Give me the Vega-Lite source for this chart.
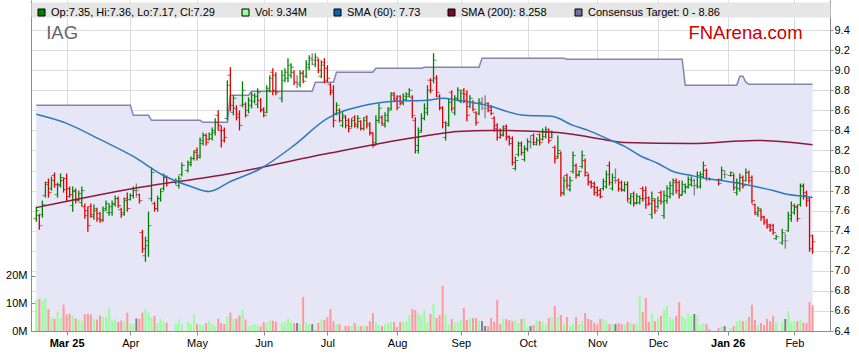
{
"$schema":"https://vega.github.io/schema/vega-lite/v6.json",
"width":799,"height":331,"autosize":"none",
"padding":{"left":31,"top":0,"right":29,"bottom":32},
"background":"white",
"config":{"font":"Liberation Sans","view":{"stroke":null},
"axis":{"gridColor":"#dcdcdc","domainColor":"#8c8c8c","tickColor":"#8c8c8c","labelColor":"#000000","labelFontSize":11,"labelFont":"Liberation Sans"}},
"datasets":{
"bars":[
{"i":0,"o":7.52,"h":7.64,"l":7.49,"c":7.60,"v":11.3},{"i":1,"o":7.55,"h":7.57,"l":7.41,"c":7.45,"v":11.6},{"i":2,"o":7.56,"h":7.70,"l":7.53,"c":7.66,"v":11.1},{"i":3,"o":7.75,"h":7.89,"l":7.73,"c":7.86,"v":12.0},{"i":4,"o":7.88,"h":7.92,"l":7.73,"c":7.78,"v":8.0},{"i":5,"o":7.82,"h":7.94,"l":7.80,"c":7.90,"v":5.0},{"i":6,"o":7.95,"h":7.98,"l":7.83,"c":7.86,"v":4.4},{"i":7,"o":7.76,"h":7.88,"l":7.73,"c":7.85,"v":6.9},{"i":8,"o":7.86,"h":7.97,"l":7.83,"c":7.93,"v":4.7},{"i":9,"o":7.90,"h":7.93,"l":7.78,"c":7.81,"v":9.6},
{"i":10,"o":7.92,"h":7.97,"l":7.69,"c":7.74,"v":6.0},{"i":11,"o":7.82,"h":7.84,"l":7.73,"c":7.76,"v":6.3},{"i":12,"o":7.65,"h":7.84,"l":7.59,"c":7.80,"v":5.6},{"i":13,"o":7.79,"h":7.82,"l":7.67,"c":7.70,"v":4.5},{"i":14,"o":7.71,"h":7.80,"l":7.69,"c":7.77,"v":4.2},{"i":15,"o":7.68,"h":7.84,"l":7.64,"c":7.80,"v":3.8},{"i":16,"o":7.64,"h":7.67,"l":7.52,"c":7.55,"v":6.0},{"i":17,"o":7.60,"h":7.64,"l":7.39,"c":7.45,"v":6.3},{"i":18,"o":7.64,"h":7.67,"l":7.53,"c":7.56,"v":6.0},{"i":19,"o":7.54,"h":7.66,"l":7.51,"c":7.62,"v":4.5},
{"i":20,"o":7.60,"h":7.63,"l":7.49,"c":7.52,"v":4.2},{"i":21,"o":7.57,"h":7.59,"l":7.48,"c":7.50,"v":5.6},{"i":22,"o":7.51,"h":7.64,"l":7.49,"c":7.60,"v":5.2},{"i":23,"o":7.62,"h":7.70,"l":7.60,"c":7.67,"v":5.2},{"i":24,"o":7.58,"h":7.67,"l":7.55,"c":7.64,"v":8.5},{"i":25,"o":7.58,"h":7.70,"l":7.55,"c":7.67,"v":3.8},{"i":26,"o":7.66,"h":7.75,"l":7.64,"c":7.72,"v":4.2},{"i":27,"o":7.72,"h":7.74,"l":7.63,"c":7.65,"v":3.4},{"i":28,"o":7.61,"h":7.63,"l":7.53,"c":7.56,"v":3.8},{"i":29,"o":7.58,"h":7.73,"l":7.55,"c":7.70,"v":3.4},
{"i":30,"o":7.72,"h":7.78,"l":7.59,"c":7.62,"v":6.7},{"i":31,"o":7.71,"h":7.77,"l":7.70,"c":7.75,"v":2.9},{"i":32,"o":7.75,"h":7.84,"l":7.72,"c":7.80,"v":2.5},{"i":33,"o":7.80,"h":7.87,"l":7.73,"c":7.80,"v":4.5},{"i":34,"o":7.76,"h":7.77,"l":7.67,"c":7.70,"v":4.5},{"i":35,"o":7.38,"h":7.41,"l":7.18,"c":7.22,"v":6.7},{"i":36,"o":7.15,"h":7.34,"l":7.09,"c":7.30,"v":8.1},{"i":37,"o":7.25,"h":7.59,"l":7.14,"c":7.45,"v":6.7},{"i":38,"o":7.72,"h":8.03,"l":7.69,"c":7.98,"v":4.8},{"i":39,"o":7.67,"h":7.69,"l":7.59,"c":7.62,"v":5.6},
{"i":40,"o":7.62,"h":7.75,"l":7.59,"c":7.72,"v":2.9},{"i":41,"o":7.72,"h":7.82,"l":7.69,"c":7.79,"v":4.5},{"i":42,"o":7.82,"h":7.97,"l":7.80,"c":7.93,"v":3.4},{"i":43,"o":7.93,"h":7.95,"l":7.84,"c":7.88,"v":2.9},{"i":46,"o":7.88,"h":7.92,"l":7.86,"c":7.90,"v":2.5},{"i":47,"o":7.85,"h":7.95,"l":7.82,"c":7.92,"v":4.2},{"i":48,"o":7.96,"h":8.08,"l":7.94,"c":8.05,"v":2.5},
{"i":50,"o":8.00,"h":8.10,"l":7.98,"c":8.08,"v":3.2},{"i":51,"o":8.06,"h":8.14,"l":8.04,"c":8.12,"v":2.5},{"i":52,"o":8.12,"h":8.20,"l":8.10,"c":8.18,"v":6.3},{"i":53,"o":8.20,"h":8.23,"l":8.10,"c":8.13,"v":2.5},{"i":54,"o":8.15,"h":8.33,"l":8.12,"c":8.30,"v":2.2},{"i":55,"o":8.27,"h":8.38,"l":8.25,"c":8.35,"v":2.2},{"i":56,"o":8.35,"h":8.37,"l":8.25,"c":8.28,"v":2.9},{"i":57,"o":8.31,"h":8.38,"l":8.30,"c":8.36,"v":3.8},{"i":58,"o":8.32,"h":8.43,"l":8.30,"c":8.40,"v":2.5},{"i":59,"o":8.38,"h":8.52,"l":8.35,"c":8.48,"v":1.7},
{"i":60,"o":8.55,"h":8.60,"l":8.40,"c":8.45,"v":4.5},{"i":61,"o":8.40,"h":8.45,"l":8.23,"c":8.30,"v":2.9},{"i":62,"o":8.40,"h":8.43,"l":8.28,"c":8.33,"v":2.5},{"i":63,"o":8.52,"h":8.90,"l":8.50,"c":8.85,"v":5.2},{"i":64,"o":8.95,"h":9.03,"l":8.59,"c":8.65,"v":6.7},{"i":65,"o":8.58,"h":8.75,"l":8.55,"c":8.72,"v":4.5},{"i":66,"o":8.62,"h":8.65,"l":8.50,"c":8.53,"v":4.5},{"i":67,"o":8.56,"h":8.60,"l":8.40,"c":8.45,"v":5.6},{"i":68,"o":8.65,"h":8.89,"l":8.63,"c":8.80,"v":7.7},{"i":69,"o":8.66,"h":8.68,"l":8.53,"c":8.55,"v":4.2},
{"i":70,"o":8.60,"h":8.73,"l":8.57,"c":8.70,"v":1.7},{"i":71,"o":8.65,"h":8.78,"l":8.62,"c":8.75,"v":2.2},{"i":72,"o":8.69,"h":8.77,"l":8.67,"c":8.74,"v":2.5},{"i":73,"o":8.66,"h":8.82,"l":8.62,"c":8.78,"v":2.2},{"i":74,"o":8.70,"h":8.72,"l":8.58,"c":8.60,"v":1.6},{"i":75,"o":8.61,"h":8.63,"l":8.53,"c":8.55,"v":3.2},{"i":76,"o":8.58,"h":8.85,"l":8.57,"c":8.80,"v":2.9},{"i":77,"o":8.82,"h":8.95,"l":8.78,"c":8.92,"v":3.8},{"i":78,"o":8.98,"h":9.02,"l":8.75,"c":8.80,"v":3.8},{"i":79,"o":8.95,"h":8.98,"l":8.75,"c":8.78,"v":3.4},
{"i":81,"o":8.72,"h":9.00,"l":8.68,"c":8.95,"v":2.9},{"i":82,"o":8.90,"h":9.02,"l":8.88,"c":8.98,"v":3.4},{"i":83,"o":8.92,"h":9.12,"l":8.88,"c":9.05,"v":4.5},{"i":84,"o":8.95,"h":9.07,"l":8.92,"c":9.03,"v":3.2},{"i":85,"o":8.98,"h":9.00,"l":8.85,"c":8.88,"v":2.9},{"i":86,"o":8.88,"h":8.95,"l":8.82,"c":8.88,"v":2.9},{"i":87,"o":8.86,"h":9.00,"l":8.83,"c":8.97,"v":2.5},{"i":88,"o":8.97,"h":9.00,"l":8.87,"c":8.89,"v":12.4},{"i":89,"o":8.94,"h":9.10,"l":8.92,"c":9.06,"v":3.3},
{"i":90,"o":9.03,"h":9.15,"l":9.00,"c":9.12,"v":2.5},{"i":91,"o":9.10,"h":9.17,"l":9.05,"c":9.10,"v":2.5},{"i":92,"o":9.06,"h":9.17,"l":9.03,"c":9.13,"v":0.7},{"i":93,"o":9.10,"h":9.12,"l":8.97,"c":9.00,"v":3.0},{"i":94,"o":8.94,"h":9.10,"l":8.92,"c":9.05,"v":4.0},{"i":95,"o":9.08,"h":9.12,"l":8.87,"c":8.90,"v":4.0},{"i":96,"o":9.02,"h":9.05,"l":8.88,"c":8.92,"v":5.1},{"i":97,"o":8.86,"h":8.87,"l":8.75,"c":8.78,"v":8.0},{"i":98,"o":8.80,"h":8.85,"l":8.43,"c":8.50,"v":3.6},{"i":99,"o":8.57,"h":8.68,"l":8.55,"c":8.65,"v":2.5},
{"i":100,"o":8.60,"h":8.62,"l":8.48,"c":8.50,"v":2.5},{"i":101,"o":8.45,"h":8.58,"l":8.43,"c":8.55,"v":0.4},{"i":102,"o":8.53,"h":8.55,"l":8.42,"c":8.45,"v":1.8},{"i":103,"o":8.50,"h":8.52,"l":8.38,"c":8.42,"v":1.8},{"i":104,"o":8.44,"h":8.52,"l":8.43,"c":8.50,"v":1.8},{"i":105,"o":8.53,"h":8.55,"l":8.43,"c":8.46,"v":2.9},{"i":106,"o":8.44,"h":8.55,"l":8.42,"c":8.52,"v":1.8},{"i":107,"o":8.49,"h":8.50,"l":8.40,"c":8.42,"v":1.8},{"i":108,"o":8.42,"h":8.53,"l":8.40,"c":8.50,"v":2.2},{"i":109,"o":8.53,"h":8.55,"l":8.42,"c":8.45,"v":1.8},
{"i":110,"o":8.47,"h":8.48,"l":8.35,"c":8.38,"v":3.6},{"i":111,"o":8.37,"h":8.38,"l":8.23,"c":8.25,"v":6.5},{"i":112,"o":8.28,"h":8.55,"l":8.25,"c":8.50,"v":3.3},{"i":113,"o":8.50,"h":8.67,"l":8.47,"c":8.62,"v":2.2},{"i":114,"o":8.53,"h":8.55,"l":8.45,"c":8.47,"v":1.8},{"i":115,"o":8.45,"h":8.58,"l":8.43,"c":8.55,"v":2.5},{"i":116,"o":8.50,"h":8.63,"l":8.48,"c":8.60,"v":2.9},{"i":117,"o":8.62,"h":8.78,"l":8.60,"c":8.75,"v":3.3},{"i":118,"o":8.77,"h":8.78,"l":8.68,"c":8.70,"v":3.3},{"i":119,"o":8.72,"h":8.75,"l":8.60,"c":8.63,"v":1.5},
{"i":120,"o":8.74,"h":8.75,"l":8.65,"c":8.68,"v":3.3},{"i":121,"o":8.67,"h":8.77,"l":8.65,"c":8.74,"v":3.3},{"i":122,"o":8.71,"h":8.78,"l":8.70,"c":8.76,"v":3.6},{"i":123,"o":8.74,"h":8.82,"l":8.73,"c":8.80,"v":5.8},{"i":124,"o":8.73,"h":8.75,"l":8.52,"c":8.55,"v":8.0},{"i":125,"o":8.50,"h":8.53,"l":8.17,"c":8.25,"v":7.6},{"i":126,"o":8.20,"h":8.43,"l":8.17,"c":8.38,"v":6.5},{"i":127,"o":8.40,"h":8.57,"l":8.38,"c":8.52,"v":5.5},{"i":128,"o":8.52,"h":8.67,"l":8.50,"c":8.62,"v":7.6},{"i":129,"o":8.58,"h":8.85,"l":8.55,"c":8.80,"v":3.3},
{"i":130,"o":8.90,"h":8.92,"l":8.77,"c":8.80,"v":6.2},{"i":131,"o":8.90,"h":9.17,"l":8.87,"c":9.10,"v":9.8},{"i":132,"o":8.92,"h":8.95,"l":8.73,"c":8.78,"v":4.7},{"i":133,"o":8.74,"h":8.76,"l":8.60,"c":8.63,"v":5.8},{"i":134,"o":8.62,"h":8.64,"l":8.42,"c":8.48,"v":16.4},{"i":135,"o":8.33,"h":8.49,"l":8.30,"c":8.45,"v":6.2},{"i":136,"o":8.47,"h":8.72,"l":8.44,"c":8.68,"v":2.5},{"i":137,"o":8.78,"h":8.80,"l":8.59,"c":8.62,"v":4.4},{"i":138,"o":8.58,"h":8.75,"l":8.55,"c":8.72,"v":2.9},{"i":139,"o":8.72,"h":8.83,"l":8.70,"c":8.80,"v":3.3},
{"i":140,"o":8.69,"h":8.80,"l":8.67,"c":8.77,"v":4.0},{"i":141,"o":8.80,"h":8.82,"l":8.67,"c":8.70,"v":8.4},{"i":142,"o":8.76,"h":8.80,"l":8.49,"c":8.55,"v":4.0},{"i":143,"o":8.64,"h":8.75,"l":8.62,"c":8.72,"v":4.7},{"i":144,"o":8.68,"h":8.70,"l":8.59,"c":8.61,"v":4.7},{"i":145,"o":8.58,"h":8.59,"l":8.45,"c":8.48,"v":4.7},{"i":146,"o":8.57,"h":8.72,"l":8.55,"c":8.68,"v":3.6},{"i":147,"o":8.66,"h":8.73,"l":8.60,"c":8.66,"v":3.6},{"i":148,"o":8.62,"h":8.75,"l":8.52,"c":8.62,"v":1.8},{"i":149,"o":8.67,"h":8.68,"l":8.58,"c":8.60,"v":1.8},
{"i":150,"o":8.63,"h":8.65,"l":8.55,"c":8.57,"v":4.7},{"i":151,"o":8.52,"h":8.54,"l":8.39,"c":8.42,"v":3.3},{"i":152,"o":8.45,"h":8.47,"l":8.30,"c":8.33,"v":11.3},{"i":153,"o":8.40,"h":8.42,"l":8.32,"c":8.35,"v":2.5},{"i":154,"o":8.36,"h":8.45,"l":8.34,"c":8.42,"v":4.4},{"i":155,"o":8.44,"h":8.46,"l":8.30,"c":8.33,"v":4.4},{"i":156,"o":8.34,"h":8.35,"l":8.25,"c":8.27,"v":4.0},{"i":157,"o":8.32,"h":8.34,"l":8.05,"c":8.08,"v":3.6},{"i":158,"o":8.02,"h":8.14,"l":8.00,"c":8.10,"v":4.0},{"i":159,"o":8.16,"h":8.29,"l":8.14,"c":8.25,"v":2.9},
{"i":160,"o":8.27,"h":8.29,"l":8.15,"c":8.18,"v":4.4},{"i":161,"o":8.11,"h":8.25,"l":8.09,"c":8.22,"v":4.7},{"i":162,"o":8.21,"h":8.32,"l":8.19,"c":8.29,"v":1.5},{"i":163,"o":8.28,"h":8.35,"l":8.22,"c":8.28,"v":1.8},{"i":164,"o":8.35,"h":8.37,"l":8.25,"c":8.28,"v":2.2},{"i":165,"o":8.26,"h":8.33,"l":8.25,"c":8.30,"v":4.0},{"i":166,"o":8.36,"h":8.37,"l":8.25,"c":8.28,"v":3.6},{"i":167,"o":8.31,"h":8.42,"l":8.30,"c":8.39,"v":3.3},{"i":168,"o":8.34,"h":8.44,"l":8.32,"c":8.41,"v":2.5},{"i":169,"o":8.39,"h":8.42,"l":8.27,"c":8.30,"v":4.7},
{"i":170,"o":8.33,"h":8.40,"l":8.32,"c":8.38,"v":5.1},{"i":171,"o":8.23,"h":8.25,"l":8.07,"c":8.12,"v":9.1},{"i":172,"o":8.14,"h":8.35,"l":8.12,"c":8.20,"v":5.1},{"i":173,"o":8.17,"h":8.19,"l":7.74,"c":7.78,"v":5.8},{"i":174,"o":7.77,"h":7.94,"l":7.75,"c":7.90,"v":2.5},{"i":175,"o":7.95,"h":7.97,"l":7.82,"c":7.85,"v":5.1},{"i":176,"o":7.81,"h":7.94,"l":7.79,"c":7.90,"v":1.8},{"i":177,"o":7.99,"h":8.19,"l":7.97,"c":8.15,"v":2.5},{"i":178,"o":8.05,"h":8.07,"l":7.92,"c":7.95,"v":5.1},{"i":179,"o":7.96,"h":8.00,"l":7.94,"c":7.99,"v":2.5},
{"i":180,"o":8.04,"h":8.20,"l":8.02,"c":8.15,"v":3.6},{"i":181,"o":8.10,"h":8.12,"l":7.94,"c":7.98,"v":6.5},{"i":182,"o":7.95,"h":7.97,"l":7.85,"c":7.88,"v":4.4},{"i":183,"o":7.89,"h":7.90,"l":7.82,"c":7.84,"v":4.0},{"i":184,"o":7.87,"h":7.89,"l":7.75,"c":7.78,"v":3.0},{"i":185,"o":7.83,"h":7.84,"l":7.74,"c":7.76,"v":2.5},{"i":186,"o":7.80,"h":7.82,"l":7.72,"c":7.74,"v":4.4},{"i":187,"o":7.82,"h":7.92,"l":7.80,"c":7.89,"v":4.4},{"i":188,"o":7.84,"h":8.00,"l":7.82,"c":7.96,"v":3.6},{"i":189,"o":8.05,"h":8.09,"l":7.85,"c":7.88,"v":2.5},
{"i":190,"o":7.82,"h":7.97,"l":7.80,"c":7.93,"v":2.5},{"i":191,"o":7.90,"h":8.02,"l":7.87,"c":7.90,"v":2.5},{"i":192,"o":7.90,"h":7.92,"l":7.79,"c":7.82,"v":2.9},{"i":193,"o":7.88,"h":7.90,"l":7.79,"c":7.81,"v":2.5},{"i":194,"o":7.80,"h":7.89,"l":7.79,"c":7.86,"v":2.2},{"i":195,"o":7.86,"h":7.89,"l":7.69,"c":7.72,"v":3.3},{"i":196,"o":7.68,"h":7.77,"l":7.66,"c":7.74,"v":2.9},{"i":197,"o":7.77,"h":7.79,"l":7.64,"c":7.67,"v":2.5},{"i":198,"o":7.68,"h":7.77,"l":7.66,"c":7.74,"v":2.9},{"i":199,"o":7.68,"h":7.75,"l":7.66,"c":7.72,"v":12.7},
{"i":200,"o":7.82,"h":7.84,"l":7.69,"c":7.72,"v":6.9},{"i":201,"o":7.80,"h":7.84,"l":7.62,"c":7.66,"v":12.0},{"i":202,"o":7.73,"h":7.74,"l":7.65,"c":7.67,"v":3.3},{"i":203,"o":7.56,"h":7.79,"l":7.52,"c":7.72,"v":6.2},{"i":204,"o":7.70,"h":7.72,"l":7.57,"c":7.60,"v":3.6},{"i":205,"o":7.64,"h":7.74,"l":7.62,"c":7.70,"v":4.7},{"i":206,"o":7.78,"h":7.80,"l":7.66,"c":7.69,"v":5.5},{"i":207,"o":7.55,"h":7.80,"l":7.52,"c":7.75,"v":7.6},{"i":208,"o":7.70,"h":7.85,"l":7.67,"c":7.82,"v":9.1},{"i":209,"o":7.74,"h":7.89,"l":7.72,"c":7.85,"v":5.1},
{"i":210,"o":7.77,"h":7.92,"l":7.75,"c":7.88,"v":4.4},{"i":211,"o":7.90,"h":7.92,"l":7.77,"c":7.80,"v":5.5},{"i":212,"o":7.88,"h":7.90,"l":7.72,"c":7.75,"v":10.5},{"i":213,"o":7.76,"h":7.90,"l":7.75,"c":7.86,"v":5.5},{"i":214,"o":7.79,"h":7.87,"l":7.77,"c":7.84,"v":4.7},{"i":215,"o":7.83,"h":7.94,"l":7.82,"c":7.91,"v":6.5},{"i":216,"o":7.86,"h":7.94,"l":7.84,"c":7.90,"v":5.5},{"i":217,"o":7.85,"h":7.92,"l":7.75,"c":7.85,"v":6.2},{"i":218,"o":7.85,"h":7.99,"l":7.82,"c":7.95,"v":5.8},{"i":219,"o":7.84,"h":7.99,"l":7.82,"c":7.96,"v":2.2},
{"i":220,"o":7.94,"h":8.09,"l":7.92,"c":8.05,"v":2.9},{"i":221,"o":8.00,"h":8.02,"l":7.90,"c":7.92,"v":2.5},{"i":222,"o":7.92,"h":7.93,"l":7.90,"c":7.91,"v":0.7},{"i":225,"o":7.91,"h":7.92,"l":7.85,"c":7.87,"v":1.1},{"i":226,"o":7.91,"h":8.04,"l":7.90,"c":8.00,"v":1.5},{"i":227,"o":7.96,"h":8.00,"l":7.92,"c":7.96,"v":1.8},{"i":229,"o":7.95,"h":7.99,"l":7.94,"c":7.98,"v":1.1},
{"i":230,"o":7.95,"h":7.97,"l":7.80,"c":7.83,"v":1.8},{"i":231,"o":7.78,"h":7.92,"l":7.75,"c":7.88,"v":3.6},{"i":232,"o":7.82,"h":7.97,"l":7.79,"c":7.93,"v":4.0},{"i":233,"o":7.93,"h":7.95,"l":7.82,"c":7.85,"v":3.6},{"i":234,"o":7.90,"h":8.02,"l":7.89,"c":7.98,"v":3.6},{"i":235,"o":7.98,"h":8.00,"l":7.87,"c":7.90,"v":5.1},{"i":236,"o":7.93,"h":7.95,"l":7.67,"c":7.70,"v":9.5},{"i":237,"o":7.66,"h":7.67,"l":7.56,"c":7.58,"v":4.0},{"i":238,"o":7.56,"h":7.64,"l":7.54,"c":7.62,"v":2.2},{"i":239,"o":7.60,"h":7.62,"l":7.50,"c":7.53,"v":2.9},
{"i":240,"o":7.54,"h":7.55,"l":7.46,"c":7.48,"v":2.2},{"i":241,"o":7.50,"h":7.52,"l":7.42,"c":7.44,"v":4.4},{"i":242,"o":7.46,"h":7.47,"l":7.39,"c":7.41,"v":3.6},{"i":243,"o":7.45,"h":7.47,"l":7.36,"c":7.38,"v":5.5},{"i":244,"o":7.32,"h":7.36,"l":7.31,"c":7.34,"v":3.3},{"i":246,"o":7.28,"h":7.42,"l":7.26,"c":7.38,"v":3.3},{"i":247,"o":7.30,"h":7.37,"l":7.22,"c":7.30,"v":4.4},{"i":248,"o":7.40,"h":7.59,"l":7.39,"c":7.55,"v":7.3},{"i":249,"o":7.52,"h":7.69,"l":7.49,"c":7.65,"v":3.3},
{"i":250,"o":7.58,"h":7.67,"l":7.56,"c":7.63,"v":3.6},{"i":251,"o":7.64,"h":7.66,"l":7.49,"c":7.52,"v":3.6},{"i":252,"o":7.66,"h":7.87,"l":7.64,"c":7.84,"v":4.0},{"i":253,"o":7.85,"h":7.87,"l":7.71,"c":7.75,"v":2.9},{"i":254,"o":7.78,"h":7.80,"l":7.64,"c":7.70,"v":2.9},{"i":255,"o":7.72,"h":7.73,"l":7.19,"c":7.22,"v":10.5},{"i":256,"o":7.35,"h":7.36,"l":7.17,"c":7.29,"v":9.34}
],
"target":[
{"i":0,"t":8.65},{"i":31,"t":8.65},{"i":32,"t":8.55},{"i":37,"t":8.55},{"i":38,"t":8.50},{"i":54,"t":8.50},{"i":55,"t":8.48},{"i":63,"t":8.48},{"i":64,"t":8.75},{"i":70,"t":8.75},{"i":71,"t":8.79},{"i":91,"t":8.79},{"i":92,"t":8.88},{"i":98,"t":8.88},{"i":99,"t":8.98},{"i":111,"t":8.98},{"i":112,"t":9.02},{"i":127,"t":9.02},{"i":128,"t":9.03},{"i":146,"t":9.03},{"i":147,"t":9.12},{"i":174,"t":9.12},{"i":175,"t":9.11},{"i":213,"t":9.11},{"i":214,"t":8.85},{"i":231,"t":8.85},{"i":232,"t":8.94},{"i":233,"t":8.94},{"i":234,"t":8.88},{"i":235,"t":8.86},{"i":256,"t":8.86}
],
"sma60":[
{"i":0,"s":8.56},{"i":10,"s":8.47},{"i":21,"s":8.31},{"i":32,"s":8.14},{"i":42,"s":7.95},{"i":51,"s":7.84},{"i":57,"s":7.79},{"i":64,"s":7.89},{"i":74,"s":8.02},{"i":85,"s":8.25},{"i":96,"s":8.52},{"i":102,"s":8.60},{"i":107,"s":8.64},{"i":112,"s":8.67},{"i":118,"s":8.69},{"i":129,"s":8.70},{"i":134,"s":8.72},{"i":139,"s":8.70},{"i":150,"s":8.64},{"i":155,"s":8.59},{"i":161,"s":8.55},{"i":170,"s":8.54},{"i":177,"s":8.45},{"i":182,"s":8.40},{"i":188,"s":8.32},{"i":194,"s":8.24},{"i":199,"s":8.15},{"i":205,"s":8.07},{"i":210,"s":7.99},{"i":216,"s":7.95},{"i":221,"s":7.92},{"i":226,"s":7.90},{"i":232,"s":7.87},{"i":237,"s":7.84},{"i":243,"s":7.80},{"i":248,"s":7.76},{"i":254,"s":7.74},{"i":256,"s":7.73}
],
"sma200":[
{"i":0,"s":7.63},{"i":32,"s":7.82},{"i":64,"s":7.97},{"i":96,"s":8.17},{"i":129,"s":8.35},{"i":139,"s":8.39},{"i":150,"s":8.40},{"i":172,"s":8.38},{"i":185,"s":8.32},{"i":194,"s":8.28},{"i":216,"s":8.27},{"i":237,"s":8.30},{"i":256,"s":8.258}
]
},
"layer":[
{"layer":[
 {"data":{"name":"target"},"mark":{"type":"area","color":"#e6e6f6"},
  "encoding":{
   "x":{"field":"i","type":"quantitative","scale":{"domain":[-0.1,260.1],"nice":false,"zero":false},
    "axis":{"orient":"bottom","title":null,"values":[10,31,53,75,96,119,140,162,185,205,228,250],
     "labelExpr":"datum.value==10?'Mar 25':datum.value==31?'Apr':datum.value==53?'May':datum.value==75?'Jun':datum.value==96?'Jul':datum.value==119?'Aug':datum.value==140?'Sep':datum.value==162?'Oct':datum.value==185?'Nov':datum.value==205?'Dec':datum.value==228?'Jan 26':'Feb'",
     "labelFontWeight":{"condition":{"test":"datum.value==10||datum.value==228","value":"bold"},"value":"normal"},
     "grid":true,"tickSize":4,"labelPadding":2,"labelFlush":false,"labelOverlap":false}},
   "y":{"field":"t","type":"quantitative","scale":{"domain":[6.4,9.7],"nice":false,"zero":false},
    "axis":{"orient":"right","title":null,"values":[6.4,6.6,6.8,7.0,7.2,7.4,7.6,7.8,8.0,8.2,8.4,8.6,8.8,9.0,9.2,9.4],"format":".1f","grid":true,"tickSize":3,"labelPadding":1,"labelOverlap":false,"labelFlush":false}},
   "y2":{"datum":6.4}}},
 {"data":{"name":"target"},"mark":{"type":"line","color":"#8484b0","strokeWidth":1.5},
  "encoding":{"x":{"field":"i","type":"quantitative","scale":{"domain":[-0.1,260.1],"nice":false,"zero":false}},
   "y":{"field":"t","type":"quantitative","scale":{"domain":[6.4,9.7],"nice":false,"zero":false},
    "axis":{"orient":"right","title":null,"values":[6.4,6.6,6.8,7.0,7.2,7.4,7.6,7.8,8.0,8.2,8.4,8.6,8.8,9.0,9.2,9.4],"format":".1f","grid":true,"tickSize":3,"labelPadding":1,"labelOverlap":false,"labelFlush":false}}}},
 {"data":{"name":"bars"},"mark":{"type":"rule","strokeWidth":1.3},
  "encoding":{"x":{"field":"i","type":"quantitative","scale":{"domain":[-0.1,260.1],"nice":false,"zero":false}},
   "y":{"field":"l","type":"quantitative","scale":{"domain":[6.4,9.7],"nice":false,"zero":false},
    "axis":{"orient":"right","title":null,"values":[6.4,6.6,6.8,7.0,7.2,7.4,7.6,7.8,8.0,8.2,8.4,8.6,8.8,9.0,9.2,9.4],"format":".1f","grid":true,"tickSize":3,"labelPadding":1,"labelOverlap":false,"labelFlush":false}},
   "y2":{"field":"h"},
   "color":{"condition":[{"test":"datum.c>datum.o","value":"#008000"},{"test":"datum.c<datum.o","value":"#dd0000"}],"value":"#808080"}}},
 {"data":{"name":"bars"},"mark":{"type":"tick","orient":"horizontal","size":3,"thickness":1,"xOffset":-1.5},
  "encoding":{"x":{"field":"i","type":"quantitative","scale":{"domain":[-0.1,260.1],"nice":false,"zero":false}},
   "y":{"field":"o","type":"quantitative","scale":{"domain":[6.4,9.7],"nice":false,"zero":false},
    "axis":{"orient":"right","title":null,"values":[6.4,6.6,6.8,7.0,7.2,7.4,7.6,7.8,8.0,8.2,8.4,8.6,8.8,9.0,9.2,9.4],"format":".1f","grid":true,"tickSize":3,"labelPadding":1,"labelOverlap":false,"labelFlush":false}},
   "color":{"condition":[{"test":"datum.c>datum.o","value":"#008000"},{"test":"datum.c<datum.o","value":"#dd0000"}],"value":"#808080"}}},
 {"data":{"name":"bars"},"mark":{"type":"tick","orient":"horizontal","size":3,"thickness":1,"xOffset":1.5},
  "encoding":{"x":{"field":"i","type":"quantitative","scale":{"domain":[-0.1,260.1],"nice":false,"zero":false}},
   "y":{"field":"c","type":"quantitative","scale":{"domain":[6.4,9.7],"nice":false,"zero":false},
    "axis":{"orient":"right","title":null,"values":[6.4,6.6,6.8,7.0,7.2,7.4,7.6,7.8,8.0,8.2,8.4,8.6,8.8,9.0,9.2,9.4],"format":".1f","grid":true,"tickSize":3,"labelPadding":1,"labelOverlap":false,"labelFlush":false}},
   "color":{"condition":[{"test":"datum.c>datum.o","value":"#008000"},{"test":"datum.c<datum.o","value":"#dd0000"}],"value":"#808080"}}},
 {"data":{"name":"sma200"},"mark":{"type":"line","color":"#8b1a3c","strokeWidth":1.5,"interpolate":"monotone"},
  "encoding":{"x":{"field":"i","type":"quantitative","scale":{"domain":[-0.1,260.1],"nice":false,"zero":false}},
   "y":{"field":"s","type":"quantitative","scale":{"domain":[6.4,9.7],"nice":false,"zero":false},
    "axis":{"orient":"right","title":null,"values":[6.4,6.6,6.8,7.0,7.2,7.4,7.6,7.8,8.0,8.2,8.4,8.6,8.8,9.0,9.2,9.4],"format":".1f","grid":true,"tickSize":3,"labelPadding":1,"labelOverlap":false,"labelFlush":false}}}},
 {"data":{"name":"sma60"},"mark":{"type":"line","color":"#2a7bbd","strokeWidth":1.5,"interpolate":"monotone"},
  "encoding":{"x":{"field":"i","type":"quantitative","scale":{"domain":[-0.1,260.1],"nice":false,"zero":false}},
   "y":{"field":"s","type":"quantitative","scale":{"domain":[6.4,9.7],"nice":false,"zero":false},
    "axis":{"orient":"right","title":null,"values":[6.4,6.6,6.8,7.0,7.2,7.4,7.6,7.8,8.0,8.2,8.4,8.6,8.8,9.0,9.2,9.4],"format":".1f","grid":true,"tickSize":3,"labelPadding":1,"labelOverlap":false,"labelFlush":false}}}},
 {"data":{"values":[{"label":"IAG"}]},"mark":{"type":"text","align":"left","baseline":"alphabetic","fontSize":18.5,"color":"#666666","font":"Liberation Sans"},
  "encoding":{"x":{"datum":3.25,"type":"quantitative"},
   "y":{"datum":9.308,"type":"quantitative","axis":{"orient":"right","title":null,"values":[6.4,6.6,6.8,7.0,7.2,7.4,7.6,7.8,8.0,8.2,8.4,8.6,8.8,9.0,9.2,9.4],"format":".1f","grid":true,"tickSize":3,"labelPadding":1,"labelOverlap":false,"labelFlush":false}},
   "text":{"field":"label"}}},
 {"data":{"values":[{"label":"FNArena.com"}]},"mark":{"type":"text","align":"left","baseline":"alphabetic","fontSize":18.5,"color":"#cc0000","font":"Liberation Sans"},
  "encoding":{"x":{"datum":215.06,"type":"quantitative"},
   "y":{"datum":9.308,"type":"quantitative","axis":{"orient":"right","title":null,"values":[6.4,6.6,6.8,7.0,7.2,7.4,7.6,7.8,8.0,8.2,8.4,8.6,8.8,9.0,9.2,9.4],"format":".1f","grid":true,"tickSize":3,"labelPadding":1,"labelOverlap":false,"labelFlush":false}},
   "text":{"field":"label"}}}
]},
{"data":{"name":"bars"},"mark":{"type":"bar","size":2},
 "encoding":{
  "x":{"field":"i","type":"quantitative","scale":{"domain":[-0.1,260.1],"nice":false,"zero":false},
   "axis":{"orient":"top","title":null,"domain":true,"domainColor":"#e6e6e6","domainWidth":15,"ticks":false,"labels":false,"grid":false,"offset":-9.5,"zindex":1}},
  "y":{"field":"v","type":"quantitative","scale":{"domain":[0,120.36],"nice":false,"zero":true},
   "axis":{"orient":"left","title":null,"values":[0,10,20],"labelExpr":"datum.value+'M'","grid":false,"tickSize":-4,"labelPadding":8,"labelOverlap":false}},
  "color":{"condition":[{"test":"datum.c>datum.o","value":"#99ff99"},{"test":"datum.c<datum.o","value":"#ff9999"}],"value":"#808080"}}},
{"data":{"values":[{"k":"Op:7.35, Hi:7.36, Lo:7.17, Cl:7.29"}]},"mark":{"type":"square","opacity":0},
 "encoding":{"fill":{"field":"k","type":"nominal",
   "scale":{"domain":["Op:7.35, Hi:7.36, Lo:7.17, Cl:7.29","Vol: 9.34M","SMA (60): 7.73","SMA (200): 8.258","Consensus Target: 0 - 8.86"],"range":["#008000","#99ff99","#0a64a8","#7a0a2a","#7070a0"]},
   "legend":{"orient":"none","legendX":5,"legendY":7,"direction":"horizontal","columns":5,"title":null,"symbolType":"square","symbolSize":49,"symbolStrokeColor":"#000000","symbolStrokeWidth":1,"symbolOpacity":1,"labelFont":"Liberation Sans","labelFontSize":11,"labelColor":"#000000","labelLimit":400,"labelOffset":4,"columnPadding":25,"padding":0,"zindex":2}}}}
],
"resolve":{"scale":{"y":"independent"},"axis":{"x":"independent","y":"independent"}}
}
